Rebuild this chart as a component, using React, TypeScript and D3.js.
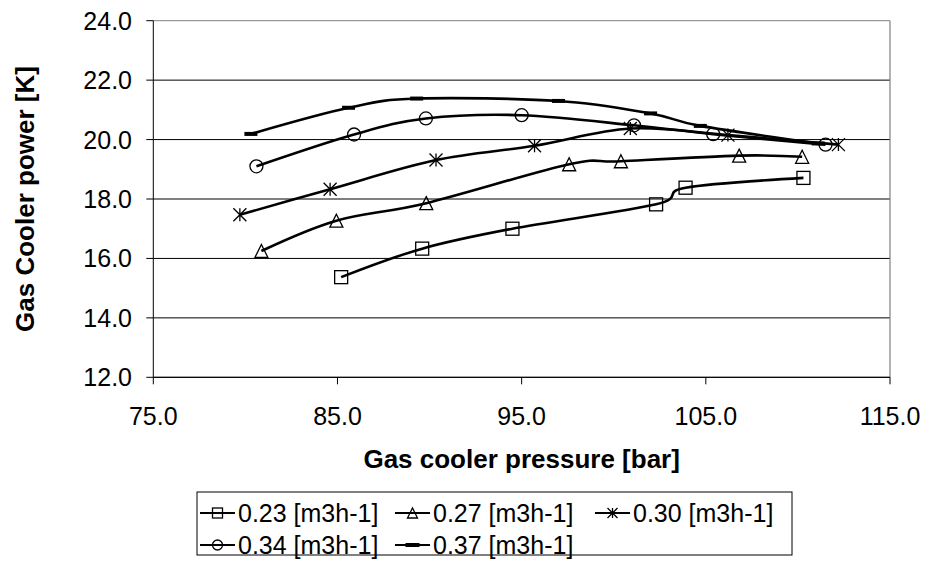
import React from "react";
import * as d3 from "d3";

const W = 926;
const H = 565;

const xTicks = [75, 85, 95, 105, 115];
const yTicks = [12, 14, 16, 18, 20, 22, 24];

const seriesNames = ["0.23 [m3h-1]", "0.27 [m3h-1]", "0.30 [m3h-1]", "0.34 [m3h-1]", "0.37 [m3h-1]"];
const markerTypes = ["square", "triangle", "star", "circle", "dash"];

const x023 = [85.2, 89.6, 94.5, 102.3, 103.9, 110.3];
const y023 = [15.37, 16.33, 17.0, 17.82, 18.38, 18.71];
const x027 = [80.87, 84.94, 89.82, 97.58, 100.39, 106.81, 110.23];
const y027 = [16.25, 17.27, 17.86, 19.17, 19.27, 19.46, 19.42];
const x030 = [79.7, 84.6, 90.35, 95.7, 100.9, 106.2, 112.2];
const y030 = [17.47, 18.33, 19.31, 19.79, 20.37, 20.15, 19.83];
const x034 = [80.6, 85.9, 89.8, 95.0, 101.1, 105.4, 111.5];
const y034 = [19.1, 20.17, 20.71, 20.82, 20.48, 20.18, 19.83];
const x037 = [80.3, 85.6, 89.3, 97.0, 102.0, 104.7, 111.1];
const y037 = [20.19, 21.07, 21.38, 21.3, 20.88, 20.46, 19.87];

const xsAll = [x023, x027, x030, x034, x037];
const ysAll = [y023, y027, y030, y034, y037];

const FONT = "'Liberation Sans', Arial, sans-serif";

function Marker({ type, cx, cy, s }: { type: string; cx: number; cy: number; s: number }) {
  const h = s / 2;
  const common = { fill: "none", stroke: "#000", strokeWidth: 1.3 };
  if (type === "square") return <rect x={cx - h} y={cy - h} width={s} height={s} {...common} />;
  if (type === "circle") return <circle cx={cx} cy={cy} r={h} {...common} />;
  if (type === "triangle")
    return <path d={`M${cx},${cy - h}L${cx + h},${cy + h}L${cx - h},${cy + h}Z`} {...common} />;
  if (type === "star")
    return (
      <path
        d={`M${cx - h},${cy - h}L${cx + h},${cy + h}M${cx - h},${cy + h}L${cx + h},${cy - h}M${cx},${cy - h}L${cx},${cy + h}`}
        {...common}
      />
    );
  if (type === "dash") return <rect x={cx - h} y={cy - 2} width={s} height={4} fill="#000" />;
  return null;
}

export default function App() {
  const left = 153.3, right = 890, top = 20.7, bottom = 377.3;
  const x = d3.scaleLinear().domain([75, 115]).range([left, right]);
  const y = d3.scaleLinear().domain([12, 24]).range([bottom, top]);
  const line = d3
    .line<[number, number]>()
    .x((d) => x(d[0]))
    .y((d) => y(d[1]))
    .curve(d3.curveCatmullRom.alpha(0));

  const legendItems = [
    { i: 0, lx: 200, ly: 513 },
    { i: 1, lx: 395, ly: 513 },
    { i: 2, lx: 595, ly: 513 },
    { i: 3, lx: 200, ly: 545 },
    { i: 4, lx: 395, ly: 545 },
  ];

  return (
    <svg width={W} height={H} style={{ position: "absolute", left: 0, top: 0, background: "#fff" }} fontFamily={FONT}>
      {/* gridlines */}
      {yTicks.map((t) => (
        <line key={"g" + t} x1={left} x2={right} y1={y(t)} y2={y(t)} stroke={t === 24 ? "#808080" : "#000"} strokeWidth={1} />
      ))}
      {/* border right */}
      <line x1={right} x2={right} y1={top} y2={bottom} stroke="#808080" strokeWidth={1.2} />
      {/* axes */}
      <line x1={left} x2={left} y1={top} y2={bottom} stroke="#000" strokeWidth={1} />
      <line x1={left} x2={right} y1={bottom} y2={bottom} stroke="#000" strokeWidth={1} />
      {yTicks.map((t) => (
        <g key={"yt" + t}>
          <line x1={left - 7} x2={left} y1={y(t)} y2={y(t)} stroke="#000" />
          <text x={132} y={y(t) + 9} textAnchor="end" fontSize={25} fill="#000">
            {t.toFixed(1)}
          </text>
        </g>
      ))}
      {xTicks.map((t) => (
        <g key={"xt" + t}>
          <line x1={x(t)} x2={x(t)} y1={bottom} y2={bottom + 7} stroke="#000" />
          <text x={x(t)} y={425} textAnchor="middle" fontSize={25} fill="#000">
            {t.toFixed(1)}
          </text>
        </g>
      ))}
      <text x={(left + right) / 2} y={468} textAnchor="middle" fontSize={26} fontWeight="bold">
        Gas cooler pressure [bar]
      </text>
      <text
        transform={`translate(34,${(top + bottom) / 2}) rotate(-90)`}
        textAnchor="middle"
        fontSize={26}
        fontWeight="bold"
      >
        Gas Cooler power [K]
      </text>
      {/* series */}
      {xsAll.map((xs, si) => {
        const pts: [number, number][] = xs.map((v, k) => [v, ysAll[si][k]]);
        return (
          <g key={"s" + si}>
            <path d={line(pts) || ""} fill="none" stroke="#000" strokeWidth={2.6} />
            {pts.map((p, k) => (
              <Marker key={k} type={markerTypes[si]} cx={x(p[0])} cy={y(p[1])} s={13} />
            ))}
          </g>
        );
      })}
      {/* legend */}
      <rect x={197} y={492} width={595} height={63} fill="none" stroke="#000" strokeWidth={1} />
      {legendItems.map(({ i, lx, ly }) => (
        <g key={"l" + i}>
          <line x1={lx} x2={lx + 35} y1={ly} y2={ly} stroke="#000" strokeWidth={2} />
          <Marker type={markerTypes[i]} cx={lx + 17.5} cy={ly} s={i === 4 ? 14 : 10} />
          <text x={lx + 38} y={ly + 9} fontSize={25} fill="#000">
            {seriesNames[i]}
          </text>
        </g>
      ))}
    </svg>
  );
}
